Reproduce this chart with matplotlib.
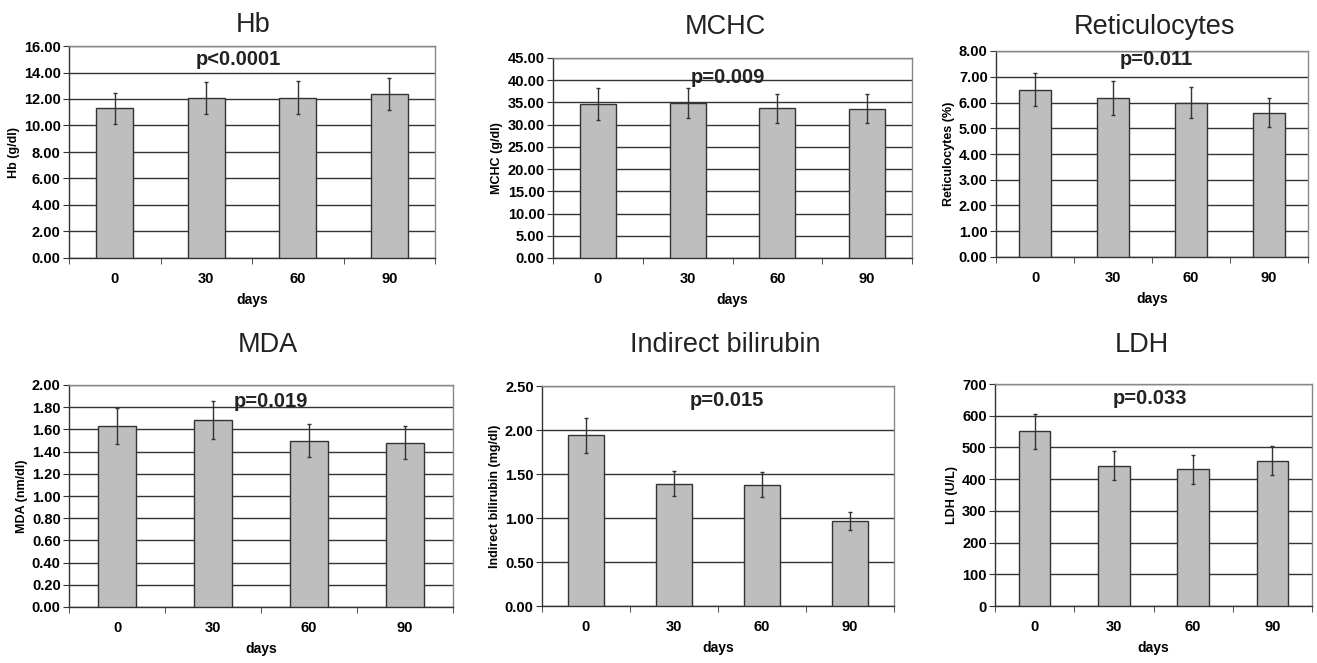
import matplotlib
matplotlib.use("Agg")
import matplotlib.pyplot as plt
import numpy as np

days = ["0", "30", "60", "90"]

titles = ["Hb", "MCHC", "Reticulocytes", "MDA", "Indirect bilirubin", "LDH"]
ylabels = ["Hb (g/dl)", "MCHC (g/dl)", "Reticulocytes (%)", "MDA (nm/dl)",
           "Indirect bilirubin (mg/dl)", "LDH (U/L)"]
pvalues = ["p<0.0001", "p=0.009", "p=0.011", "p=0.019", "p=0.015", "p=0.033"]

hb_mean = [11.3, 12.05, 12.1, 12.4]
hb_err = [1.15, 1.2, 1.25, 1.2]
mchc_mean = [34.6, 34.8, 33.7, 33.6]
mchc_err = [3.6, 3.4, 3.3, 3.3]
retic_mean = [6.5, 6.17, 6.0, 5.6]
retic_err = [0.65, 0.65, 0.6, 0.56]
mda_mean = [1.63, 1.685, 1.5, 1.48]
mda_err = [0.16, 0.17, 0.15, 0.15]
bili_mean = [1.94, 1.39, 1.38, 0.966]
bili_err = [0.2, 0.14, 0.14, 0.1]
ldh_mean = [551, 443, 431, 458]
ldh_err = [55, 45, 45, 46]

means = [hb_mean, mchc_mean, retic_mean, mda_mean, bili_mean, ldh_mean]
errs = [hb_err, mchc_err, retic_err, mda_err, bili_err, ldh_err]
ymaxes = [16, 45, 8, 2.0, 2.5, 700]
ysteps = [2, 5, 1, 0.2, 0.5, 100]
yfmts = ["{:.2f}", "{:.2f}", "{:.2f}", "{:.2f}", "{:.2f}", "{:.0f}"]
p_y = [15.0, 40.5, 7.66, 1.85, 2.33, 653]
p_x = [1.35, 1.45, 1.55, 1.6, 1.6, 1.45]

W, H = 1317, 663
# pixel boxes: left, right, top, bottom
boxes = [(69, 435, 46, 258), (553, 912, 58, 258), (996, 1308, 51, 257),
         (69, 453, 385, 607), (542, 894, 386, 606), (995, 1312, 384, 606)]
title_y = [25, 27, 27, 345, 345, 345]
title_x = [253, 725, 1155, 268, 725, 1142]

fig = plt.figure(figsize=(W / 100, H / 100), dpi=100)
tickfont = dict(family=["Liberation Sans Narrow", "Liberation Sans", "DejaVu Sans"], weight="bold")

for i in range(6):
    l, r, t, b = boxes[i]
    ax = fig.add_axes([l / W, 1 - b / H, (r - l) / W, (b - t) / H])
    x = np.arange(len(days))
    ax.bar(x, means[i], width=0.4, color="#bebebe", edgecolor="#333333", linewidth=1.0, zorder=3)
    ax.errorbar(x, means[i], yerr=errs[i], fmt="none", ecolor="#333333",
                elinewidth=1.0, capsize=1.5, capthick=1.0, zorder=4)
    ax.set_xlim(-0.5, 3.5)
    ax.set_ylim(0, ymaxes[i])
    yt = np.arange(0, ymaxes[i] + ysteps[i] / 2, ysteps[i])
    ax.set_yticks(yt)
    ax.set_yticklabels([yfmts[i].format(v) for v in yt], fontsize=10.5, **tickfont)
    ax.set_xticks(x)
    ax.set_xticklabels(days, fontsize=10.5, **tickfont)
    ax.set_xticks([-0.5, 0.5, 1.5, 2.5, 3.5], minor=True)
    ax.tick_params(axis="x", which="major", length=0, pad=10)
    ax.tick_params(axis="x", which="minor", length=4, direction="out", color="#333333")
    ax.tick_params(axis="y", length=4, direction="out", color="#333333", pad=2)
    ax.yaxis.grid(True, color="#333333", linewidth=1.0, zorder=0)
    ax.set_axisbelow(True)
    for s in ["left", "bottom"]:
        ax.spines[s].set_color("#333333")
        ax.spines[s].set_linewidth(1.0)
    for s in ["top", "right"]:
        ax.spines[s].set_color("#888888")
        ax.spines[s].set_linewidth(1.0)
    ax.set_xlabel("days", fontsize=10, labelpad=5, **tickfont)
    ax.set_ylabel(ylabels[i], fontsize=9, labelpad=3, **tickfont)
    ax.text(p_x[i], p_y[i], pvalues[i], ha="center", va="center",
            fontsize=14.5, fontweight="bold", color="#222222", zorder=5,
            family=["Liberation Sans", "DejaVu Sans"])
    fig.text(title_x[i] / W, 1 - title_y[i] / H, titles[i], ha="center", va="center",
             fontsize=19.5, color="#222222", family=["Liberation Sans", "DejaVu Sans"])

fig.savefig("out.png", dpi=100, facecolor="white")
